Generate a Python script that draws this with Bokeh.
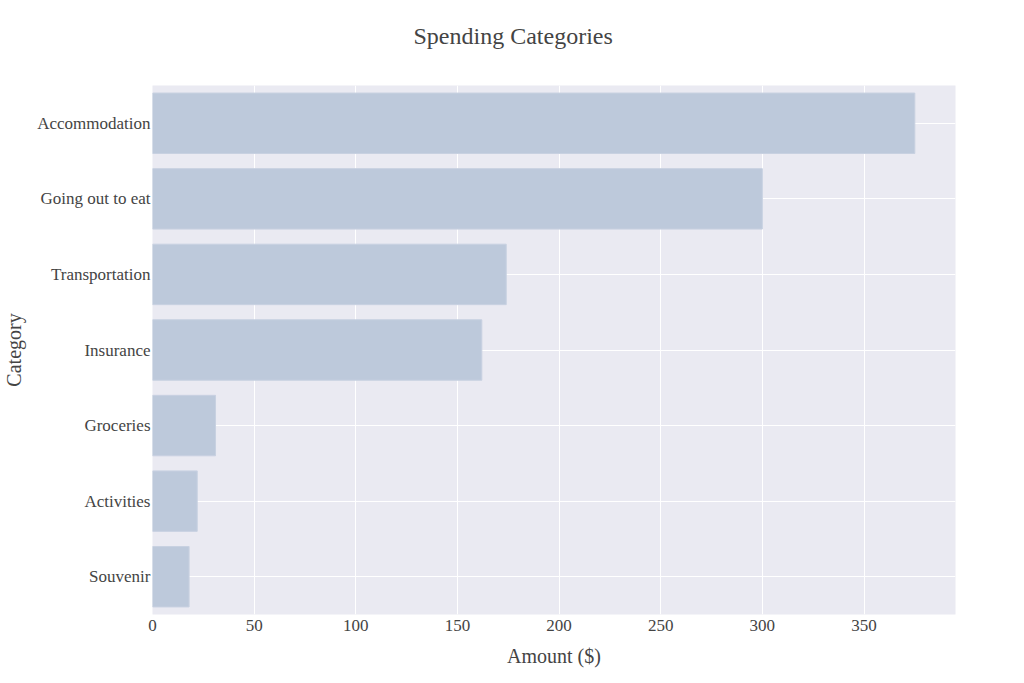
from bokeh.plotting import figure
from bokeh.models import Range1d, FactorRange, FixedTicker, Title
from bokeh.embed import file_html
from bokeh.resources import INLINE

categories = ["Accommodation", "Going out to eat", "Transportation", "Insurance",
              "Groceries", "Activities", "Souvenir"]
amounts = [375, 300, 174, 162, 31, 22, 18]
x_ticks = [0, 50, 100, 150, 200, 250, 300, 350]
title_text = "Spending Categories"

FONT = "Liberation Serif"
TXT = "#444444"

p = figure(
    y_range=FactorRange(*list(reversed(categories))),
    x_range=Range1d(0, 395),
    frame_width=803, frame_height=529,
    min_border_left=144, min_border_top=85, min_border_right=45, min_border_bottom=50,
    output_backend="svg", toolbar_location=None,
)

p.hbar(y=categories, right=amounts, left=0, height=0.8,
       fill_color="#bdc9db", line_color="#c8d1e1", line_width=1)

p.background_fill_color = "#eaeaf2"
p.border_fill_color = "white"
p.outline_line_color = None

# spacer between title and plot area
p.add_layout(Title(text=" ", text_font_size="1px", standoff=15), "above")
p.add_layout(Title(text=title_text, text_font=FONT, text_font_size="24px",
                   text_font_style="normal", text_color=TXT, align="left",
                   offset=261, standoff=38), "above")

p.xgrid.grid_line_color = "white"
p.xgrid.grid_line_width = 1
p.ygrid.grid_line_color = "white"
p.ygrid.grid_line_width = 1

p.xaxis.ticker = FixedTicker(ticks=x_ticks)
for ax in (p.xaxis, p.yaxis):
    ax.axis_line_color = None
    ax.major_tick_line_color = None
    ax.minor_tick_line_color = None
    ax.major_tick_out = 0
    ax.major_tick_in = 0
    ax.minor_tick_out = 0
    ax.major_label_text_font = FONT
    ax.major_label_text_color = TXT
    ax.axis_label_text_font = FONT
    ax.axis_label_text_color = TXT
    ax.axis_label_text_font_style = "normal"
    ax.axis_label_text_font_size = "20px"

p.xaxis.major_label_text_font_size = "17px"
p.yaxis.major_label_text_font_size = "17px"
p.xaxis.major_label_standoff = 5
p.yaxis.major_label_standoff = 2
p.xaxis.axis_label = "Amount ($)"
p.yaxis.axis_label = "Category"
p.xaxis.axis_label_standoff = 11
p.yaxis.axis_label_standoff = 9

open("out.html", "w").write(file_html(p, INLINE))
